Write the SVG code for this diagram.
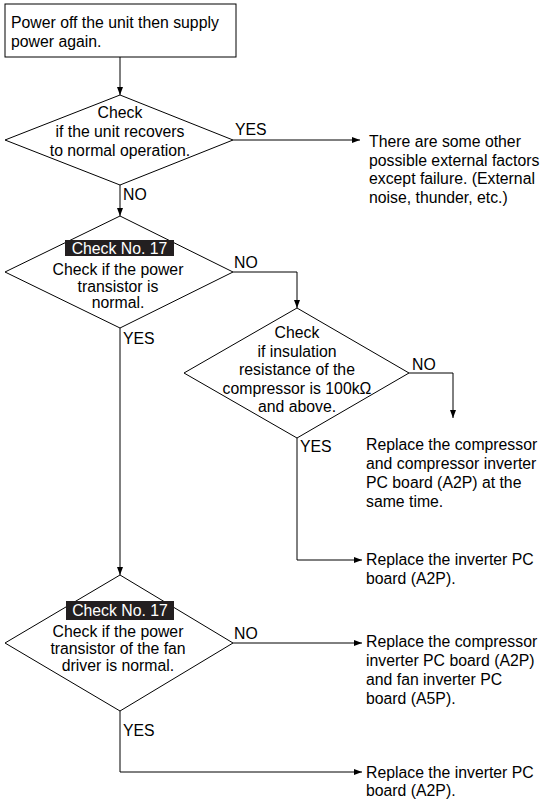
<svg xmlns="http://www.w3.org/2000/svg" width="542" height="800" viewBox="0 0 542 800">
<defs>
<marker id="arr" markerWidth="9" markerHeight="7" refX="8" refY="3" orient="auto" markerUnits="userSpaceOnUse"><path d="M0,0 L8,3 L0,6 z" fill="#000"/></marker>
<style>
.s{fill:#fff;stroke:#000;stroke-width:1}
.c{fill:none;stroke:#000;stroke-width:1;marker-end:url(#arr)}
text{font-family:"Liberation Sans",Arial,sans-serif;font-size:15.8px;fill:#000}
.m{text-anchor:middle}
.w{fill:#fff}
</style>
</defs>
<rect width="542" height="800" fill="#fff"/>
<g id="connectors">
<path class="c" d="M120,57 V95"/>
<path class="c" d="M233,140 H360"/>
<path class="c" d="M120,185 V216"/>
<path class="c" d="M233,272 H297 V308"/>
<path class="c" d="M409,373 H453 V418"/>
<path class="c" d="M297,438 V560 H362"/>
<path class="c" d="M120,328 V575"/>
<path class="c" d="M233,643 H362"/>
<path class="c" d="M120,711 V772 H362"/>
<text x="235" y="135">YES</text>
<text x="123" y="200">NO</text>
<text x="234" y="268">NO</text>
<text x="123" y="344">YES</text>
<text x="412" y="370">NO</text>
<text x="300" y="452">YES</text>
<text x="234" y="639">NO</text>
<text x="123" y="736">YES</text>
</g>
<g id="start">
<rect class="s" x="5" y="4" width="231" height="53"/>
<text x="11" y="28">Power off the unit then supply</text>
<text x="11" y="47">power again.</text>
</g>
<g id="d1">
<polygon class="s" points="120,95 233,140 120,185 5,140"/>
<text class="m" x="120" y="118">Check</text>
<text class="m" x="120" y="137">if the unit recovers</text>
<text class="m" x="120" y="156">to normal operation.</text>
</g>
<g id="r1">
<text x="369" y="147">There are some other</text>
<text x="369" y="165.5">possible external factors</text>
<text x="369" y="184">except failure. (External</text>
<text x="369" y="202.5">noise, thunder, etc.)</text>
</g>
<g id="d2">
<polygon class="s" points="120,216 233,272 120,328 5,272"/>
<rect x="65" y="240" width="109" height="16" fill="#231f20"/>
<text class="m w" x="119.5" y="254">Check No. 17</text>
<text class="m" x="118" y="275">Check if the power</text>
<text class="m" x="118" y="292">transistor is</text>
<text class="m" x="118" y="308">normal.</text>
</g>
<g id="d3">
<polygon class="s" points="297,308 409,373 297,438 184,373"/>
<text class="m" x="297" y="338">Check</text>
<text class="m" x="297" y="356.5">if insulation</text>
<text class="m" x="297" y="375">resistance of the</text>
<text class="m" x="297" y="393.5">compressor is 100kΩ</text>
<text class="m" x="297" y="412">and above.</text>
</g>
<g id="r2">
<text x="366" y="450">Replace the compressor</text>
<text x="366" y="469">and compressor inverter</text>
<text x="366" y="488">PC board (A2P) at the</text>
<text x="366" y="507">same time.</text>
</g>
<g id="r3">
<text x="366" y="565">Replace the inverter PC</text>
<text x="366" y="584">board (A2P).</text>
</g>
<g id="d4">
<polygon class="s" points="120,575 233,643 120,711 5,643"/>
<rect x="66" y="601" width="108" height="19" fill="#231f20"/>
<text class="m w" x="120" y="616">Check No. 17</text>
<text class="m" x="118" y="637">Check if the power</text>
<text class="m" x="118" y="654">transistor of the fan</text>
<text class="m" x="118" y="671">driver is normal.</text>
</g>
<g id="r4">
<text x="366" y="647">Replace the compressor</text>
<text x="366" y="666">inverter PC board (A2P)</text>
<text x="366" y="685">and fan inverter PC</text>
<text x="366" y="704">board (A5P).</text>
</g>
<g id="r5">
<text x="366" y="778">Replace the inverter PC</text>
<text x="366" y="796">board (A2P).</text>
</g>
</svg>
